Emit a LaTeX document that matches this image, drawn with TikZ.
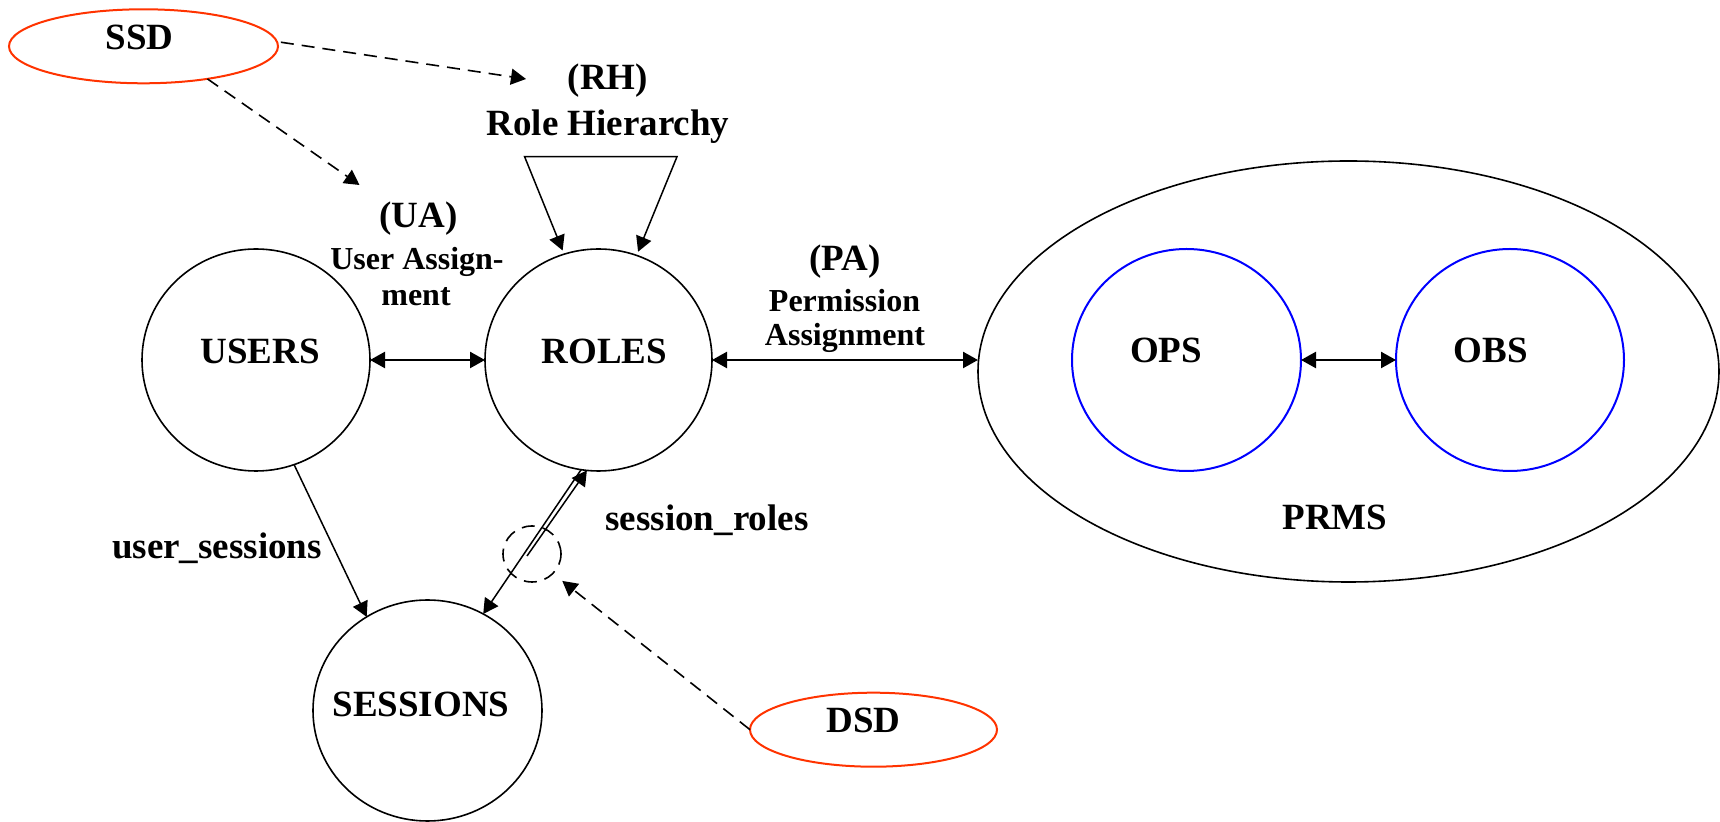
\documentclass[tikz,border=0pt]{standalone}
\usepackage{fontspec}
\setmainfont{Liberation Serif}
\usetikzlibrary{shapes.geometric,arrows.meta}
\definecolor{sodred}{RGB}{255,51,0}
\definecolor{setblue}{RGB}{0,0,255}

\begin{document}
\begin{tikzpicture}[x=0.5pt,y=-0.5pt,
  >={Triangle[length=7.5pt,width=8pt]},
  every node/.style={inner sep=0pt,outer sep=0pt},
  bubble/.style={draw,ellipse,line width=0.8pt},
  sod/.style={draw=sodred,ellipse,line width=1pt},
  inner set/.style={draw=setblue,ellipse,line width=1pt},
  big/.style={anchor=base,font=\bfseries\fontsize{18.5pt}{22pt}\selectfont},
  small/.style={anchor=base,font=\bfseries\fontsize{16pt}{19pt}\selectfont},
  link/.style={line width=1.2pt,<->},
  flow/.style={line width=0.75pt,->},
  constraint/.style={line width=0.8pt,dash pattern=on 6.5pt off 4pt,->}]

\useasboundingbox (0,0) rectangle (1720,822);

% core sets
\node[bubble,minimum width=114pt,minimum height=111pt] (users) at (256,360) {};
\node[bubble,minimum width=113.5pt,minimum height=111pt] (roles) at (598.5,360) {};
\node[bubble,minimum width=114.5pt,minimum height=110.5pt] (sessions) at (427.5,710.5) {};
\node[bubble,minimum width=370.5pt,minimum height=210.5pt] (prms) at (1348.5,371.5) {};
\node[inner set,minimum width=114.5pt,minimum height=111pt] (ops) at (1186.5,360) {};
\node[inner set,minimum width=114pt,minimum height=111pt] (obs) at (1510,360) {};

% separation of duty constraints
\node[sod,minimum width=134.5pt,minimum height=37pt] (ssd) at (143.5,46.3) {};
\node[sod,minimum width=123.5pt,minimum height=37pt] (dsd) at (873.5,729.7) {};
\node[draw,ellipse,line width=0.8pt,dash pattern=on 6.5pt off 4pt,
      minimum width=29pt,minimum height=28pt] (mark) at (532,554) {};

% labels
\node[big] (ssd-t) at (139.5,50) {SSD};
\node[big] (dsd-t) at (863.5,733) {DSD};
\node[big] (users-t) at (260,364) {USERS};
\node[big] (roles-t) at (604.5,364) {ROLES};
\node[big] (sessions-t) at (421,717) {SESSIONS};
\node[big] (ops-t) at (1166,363) {OPS};
\node[big] (obs-t) at (1491,363) {OBS};
\node[big] (prms-t) at (1335,530) {PRMS};
\node[big] (rh-t) at (608,90) {(RH)};
\node[big] (rh-t2) at (608,136) {Role Hierarchy};
\node[big] (ua-t) at (418.5,228) {(UA)};
\node[small] (ua-t2) at (417,270) {User Assign-};
\node[small] (ua-t3) at (416,306) {ment};
\node[big] (pa-t) at (845,271) {(PA)};
\node[small] (pa-t2) at (844.5,312) {Permission};
\node[small] (pa-t3) at (845,346) {Assignment};
\node[big] (us-t) at (217,559) {user\_sessions};
\node[big] (sr-t) at (707,531) {session\_roles};

% free ends and corners
\coordinate (rh-in) at (526,79);
\coordinate (ua-in) at (359.5,185);
\coordinate (rh-l) at (524.6,156.7);
\coordinate (rh-r) at (677,156.7);
\coordinate (sr-foot) at (527,556);

% assignments
\draw[link] (users.east) -- (roles.west);
\draw[link] (roles.east) -- (roles.east -| prms.west);
\draw[link] (ops.east) -- (obs.west);

% role hierarchy
\draw[line width=0.75pt,<->,shorten <=2pt,shorten >=2pt]
  (roles.108) -- (rh-l) -- (rh-r) -- (roles.70);

% sessions
\draw[flow] (users.-70) -- (sessions.123);
\draw[flow] (sr-foot) -- (roles.-96);
\draw[flow] (roles.-99) -- (sessions.60);

% constraints
\draw[constraint,shorten <=2pt] (ssd.2) -- (rh-in);
\draw[constraint] (ssd.-27) -- (ua-in);
\draw[constraint,shorten >=6pt] (dsd.west) -- (mark.-43);
\end{tikzpicture}
\end{document}
